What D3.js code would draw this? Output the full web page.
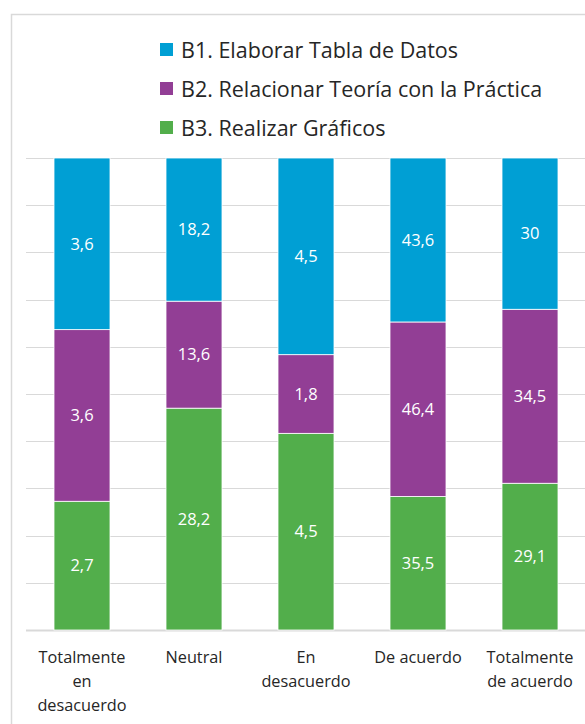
<!DOCTYPE html>
<html>
<head>
<meta charset="utf-8">
<script src="https://cdn.jsdelivr.net/npm/d3@7"></script>
<style>
  body { margin: 0; background: #fff; }
  svg { display: block; font-family: 'Open Sans', 'Noto Sans', sans-serif; }
</style>
</head>
<body>
<div id="chart"></div>
<script>
const categories = ['Totalmente en desacuerdo', 'Neutral', 'En desacuerdo', 'De acuerdo', 'Totalmente de acuerdo']
const categoryLines = [['Totalmente', 'en', 'desacuerdo'], ['Neutral'], ['En', 'desacuerdo'], ['De acuerdo'], ['Totalmente', 'de acuerdo']]
const seriesNames = ['B1. Elaborar Tabla de Datos', 'B2. Relacionar Teoría con la Práctica', 'B3. Realizar Gráficos']
const b1 = [3.6, 18.2, 4.5, 43.6, 30]
const b2 = [3.6, 13.6, 1.8, 46.4, 34.5]
const b3 = [2.7, 28.2, 4.5, 35.5, 29.1]
const colors = ['#009fd4', '#923e95', '#52ae4b']

const width = 585
const height = 724
const margin = {top: 158, right: -1, bottom: 94, left: 26}

const svg = d3.select('#chart').append('svg')
    .attr('width', width)
    .attr('height', height)

// chart frame (cropped on the right and bottom)
svg.append('rect')
    .attr('x', 11.5).attr('y', 14.5)
    .attr('width', width + 20).attr('height', height + 20)
    .attr('fill', 'none')
    .attr('stroke', '#d9d9d9')
    .attr('stroke-width', 1.5)

const rows = categories.map((c, i) => ({cat: c, b3: b3[i], b2: b2[i], b1: b1[i]}))
const stack = d3.stack().keys(['b3', 'b2', 'b1']).offset(d3.stackOffsetExpand)
const stacked = stack(rows)

const x = d3.scaleBand()
    .domain(categories)
    .range([margin.left, width - margin.right])
    .paddingInner(0.5)
    .paddingOuter(0.25)

const y = d3.scaleLinear()
    .domain([0, 1])
    .range([height - margin.bottom, margin.top])

// gridlines
svg.append('g')
    .selectAll('line')
    .data(d3.range(0, 1.0001, 0.1))
    .enter().append('line')
    .attr('x1', margin.left)
    .attr('x2', width)
    .attr('y1', d => Math.round(y(d)) + 0.5)
    .attr('y2', d => Math.round(y(d)) + 0.5)
    .attr('stroke', '#d9d9d9')
    .attr('stroke-width', d => d === 0 ? 2 : 1.2)

const colorOf = {b1: colors[0], b2: colors[1], b3: colors[2]}
const valueOf = {b1: b1, b2: b2, b3: b3}

const layers = svg.append('g')
    .selectAll('g')
    .data(stacked)
    .enter().append('g')
    .attr('fill', d => colorOf[d.key])

layers.selectAll('rect')
    .data(d => d)
    .enter().append('rect')
    .attr('x', d => x(d.data.cat))
    .attr('width', x.bandwidth())
    .attr('y', d => y(d[1]))
    .attr('height', d => y(d[0]) - y(d[1]))
    .attr('stroke', '#ffffff')
    .attr('stroke-width', 0.8)

// value labels
stacked.forEach(layer => {
    svg.append('g')
        .selectAll('text')
        .data(layer)
        .enter().append('text')
        .attr('x', d => x(d.data.cat) + x.bandwidth() / 2)
        .attr('y', d => (y(d[0]) + y(d[1])) / 2)
        .attr('dy', '0.35em')
        .attr('text-anchor', 'middle')
        .attr('fill', '#ffffff')
        .attr('font-size', 16.5)
        .text((d, i) => String(valueOf[layer.key][i]).replace('.', ','))
})

// category labels
const catLabels = svg.append('g')
    .selectAll('text')
    .data(categories)
    .enter().append('text')
    .attr('x', d => x(d) + x.bandwidth() / 2)
    .attr('y', height - margin.bottom + 33)
    .attr('text-anchor', 'middle')
    .attr('fill', '#262626')
    .attr('font-size', 16.3)

catLabels.selectAll('tspan')
    .data((d, i) => categoryLines[i])
    .enter().append('tspan')
    .attr('x', function () { return this.parentNode.getAttribute('x') })
    .attr('dy', (d, i) => i === 0 ? 0 : 24)
    .text(d => d)

// legend
const legend = svg.append('g')
    .selectAll('g')
    .data(seriesNames)
    .enter().append('g')
    .attr('transform', (d, i) => `translate(160, ${50 + i * 39})`)

legend.append('rect')
    .attr('x', 0).attr('y', -7)
    .attr('width', 13).attr('height', 13)
    .attr('fill', (d, i) => colors[i])

legend.append('text')
    .attr('x', 21)
    .attr('dy', '0.35em')
    .attr('fill', '#262626')
    .attr('font-size', 21.5)
    .text(d => d)
</script>
</body>
</html>
